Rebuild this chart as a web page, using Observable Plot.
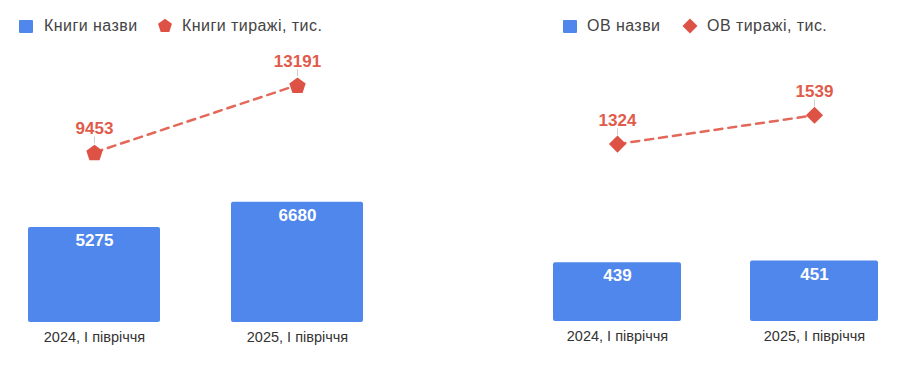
<!DOCTYPE html>
<html><head><meta charset="utf-8">
<script src="https://cdn.jsdelivr.net/npm/d3@7"></script>
<script src="https://cdn.jsdelivr.net/npm/@observablehq/plot@0.6"></script>
<style>
body{margin:0;background:#fff;font-family:"Liberation Sans",Arial,sans-serif;}
#wrap{position:relative;width:900px;height:375px;overflow:hidden;background:#fff}
.chart{position:absolute;top:40px}
.chart svg{overflow:visible}
.lg{position:absolute;font-size:16px;letter-spacing:0.45px;line-height:20px;color:#444;white-space:nowrap;top:16px}
.sw{position:absolute;top:20px;width:14px;height:13px;background:#5087EC;border-radius:1px}
.sym{position:absolute;top:17px}
</style>
</head><body>
<div id="wrap">
  <div class="sw" style="left:19px"></div>
  <div class="lg" style="left:44px">Книги назви</div>
  <svg class="sym" style="left:157px" width="16" height="18" viewBox="-8 -9 16 18"><polygon id="pent" fill="#DE5246"/></svg>
  <div class="lg" style="left:182px">Книги тиражі, тис.</div>

  <div class="sw" style="left:563px"></div>
  <div class="lg" style="left:587px">ОВ назви</div>
  <svg class="sym" style="left:681px" width="18" height="18" viewBox="-9 -9 18 18"><polygon points="0,-7.5 7.5,0 0,7.5 -7.5,0" fill="#DE5246"/></svg>
  <div class="lg" style="left:707px">ОВ тиражі, тис.</div>

  <div class="chart" id="left" style="left:0px"></div>
  <div class="chart" id="right" style="left:450px"></div>
</div>
<script>
// ---- data ----
const periods = ["2024, І півріччя", "2025, І півріччя"];
const bookTitles = [5275, 6680];
const bookCopies = [9453, 13191];
const periodicalTitles = [439, 451];
const periodicalCopies = [1324, 1539];

const BLUE = "#5087EC";
const RED = "#DE5246";
const RED_TEXT = "#E05B4B";
const RED_LINE = "#E4685A";

function polyPoints(R, n, rot) {
  const pts = [];
  for (let k = 0; k < n; k++) {
    const a = (rot + k * 360 / n) * Math.PI / 180;
    pts.push([R * Math.cos(a), R * Math.sin(a)]);
  }
  return pts;
}
document.getElementById("pent").setAttribute("points",
  polyPoints(7.3, 5, -90).map(p => p.map(v => v.toFixed(2)).join(",")).join(" "));

const pentagon = {
  draw(ctx) {
    const pts = polyPoints(8.6, 5, -90);
    ctx.moveTo(pts[0][0], pts[0][1] + 1);
    for (let i = 1; i < pts.length; i++) ctx.lineTo(pts[i][0], pts[i][1] + 1);
    ctx.closePath();
  }
};
const diamond = {
  draw(ctx) {
    const r = 8.6;
    ctx.moveTo(0, -r); ctx.lineTo(r, 0); ctx.lineTo(0, r); ctx.lineTo(-r, 0); ctx.closePath();
  }
};
const leader = {
  draw(ctx) { ctx.moveTo(0, -16); ctx.lineTo(0, -9); }
};

function makeChart(titles, copies, symbol, yMax, xRange, baseline, width) {
  const data = periods.map((p, i) => ({period: p, titles: titles[i], copies: copies[i]}));
  const height = 315;
  return Plot.plot({
    width, height,
    marginTop: 2, marginBottom: height - baseline, marginLeft: 0, marginRight: 0,
    style: {fontFamily: '"Liberation Sans", Arial, sans-serif', background: "transparent", overflow: "visible"},
    x: {type: "band", domain: periods, range: xRange, paddingInner: 0.35, paddingOuter: 0, label: null},
    y: {domain: [0, yMax], range: [baseline, 2], axis: null},
    marks: [
      Plot.barY(data, {x: "period", y: "titles", fill: BLUE, rx: 2}),
      Plot.axisX({tickSize: 0, tickPadding: 9, fontSize: 14.5, fill: "#333", label: null}),
      Plot.text(data, {x: "period", y: "titles", text: d => String(d.titles), dy: 13,
        fill: "white", fontWeight: "bold", fontSize: 17}),
      Plot.line(data, {x: "period", y: "copies", stroke: RED_LINE, strokeWidth: 2.5, strokeDasharray: "8,6"}),
      Plot.dot(data, {x: "period", y: "copies", symbol: leader, stroke: "#cfcfcf", strokeWidth: 1, fill: "none"}),
      Plot.dot(data, {x: "period", y: "copies", symbol, fill: RED, stroke: "none"}),
      Plot.text(data, {x: "period", y: "copies", text: d => String(d.copies), dy: -24,
        fill: RED_TEXT, fontWeight: "bold", fontSize: 17})
    ]
  });
}

document.getElementById("left").append(
  makeChart(bookTitles, bookCopies, pentagon, 280 / 0.018, [28, 363], 282, 420));
document.getElementById("right").append(
  makeChart(periodicalTitles, periodicalCopies, diamond, 279 / 0.134, [103, 429], 281, 450));
</script>
</body></html>
